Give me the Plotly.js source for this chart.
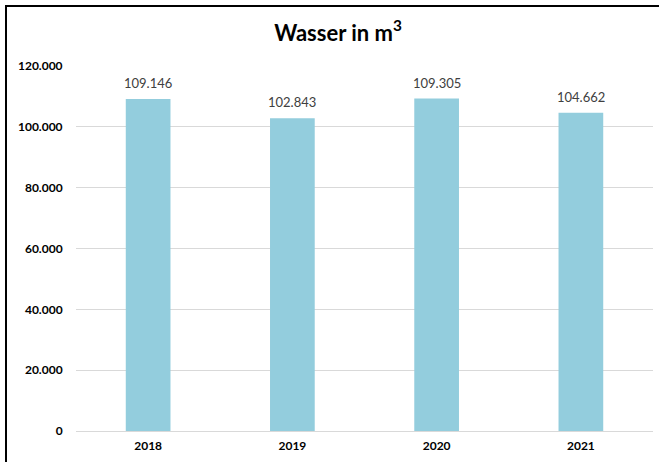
<!DOCTYPE html>
<html>
<head>
<meta charset="utf-8">
<script src="https://cdn.plot.ly/plotly-3.0.1.min.js"></script>
<style>
html,body{margin:0;padding:0;background:#fff;}
#wrap{position:relative;width:659px;height:462px;}
#chart{position:absolute;left:0;top:0;width:659px;height:462px;}
#bl{position:absolute;left:5px;top:5px;width:2px;height:457px;background:#000;}
#bt{position:absolute;left:5px;top:5px;width:654px;height:2px;background:#000;}
</style>
</head>
<body>
<div id="wrap"><div id="chart"></div><div id="bl"></div><div id="bt"></div></div>
<script>
const years = ['2018', '2019', '2020', '2021'];
const water = [109146, 102843, 109305, 104662];
const fmt = v => String(v).replace(/\B(?=(\d{3})+(?!\d))/g, '.');

const labels = years.map((yr, i) => ({
  x: i, y: water[i], xref: 'x', yref: 'y',
  text: fmt(water[i]), showarrow: false,
  yanchor: 'bottom', yshift: 6,
  font: {family: 'Lato, sans-serif', size: 13, color: '#404040'}
}));

Plotly.newPlot('chart', [{
  type: 'bar',
  x: years,
  y: water,
  width: 0.31,
  marker: {color: '#93CDDD'},
  hoverinfo: 'none'
}], {
  width: 659, height: 462,
  margin: {l: 76, r: 6, t: 66, b: 31, pad: 0},
  separators: ',.',
  paper_bgcolor: '#fff', plot_bgcolor: '#fff',
  showlegend: false,
  annotations: labels,
  title: {
    text: '<b>Wasser in m<sup>3</sup></b>',
    x: 0.513, xanchor: 'center',
    y: 1 - 33/462, yanchor: 'middle',
    font: {family: 'Lato, sans-serif', size: 22, color: '#000'}
  },
  xaxis: {
    type: 'category',
    range: [-0.5, years.length - 0.5],
    showgrid: false, zeroline: false,
    showline: true, linecolor: '#d9d9d9', linewidth: 1,
    ticks: 'outside', ticklen: 4, tickcolor: 'rgba(0,0,0,0)',
    tickfont: {family: 'Lato, sans-serif', size: 12, color: '#000', weight: 'bold'}
  },
  yaxis: {
    range: [0, 120000], dtick: 20000, tick0: 0,
    tickformat: ',d',
    showgrid: true, gridcolor: '#d9d9d9', gridwidth: 1,
    zeroline: false, showline: false,
    ticks: 'outside', ticklen: 10, tickcolor: 'rgba(0,0,0,0)',
    tickfont: {family: 'Lato, sans-serif', size: 12, color: '#000', weight: 'bold'}
  }
}, {displayModeBar: false, staticPlot: true});
</script>
</body>
</html>
